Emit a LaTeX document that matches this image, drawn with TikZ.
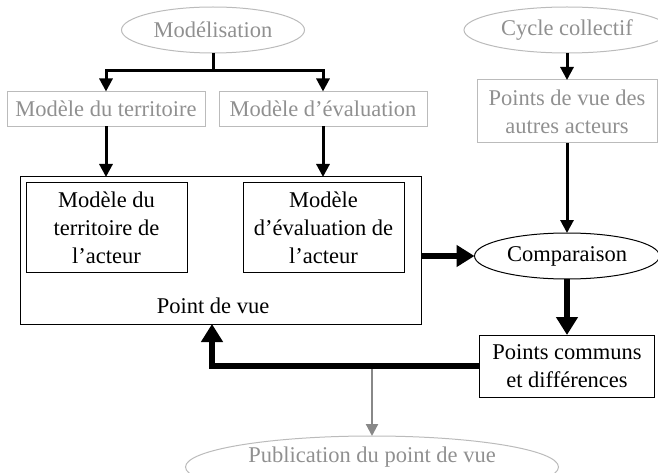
\documentclass[tikz,border=0pt]{standalone}
\usepackage{fontspec}
\setmainfont{Liberation Serif}
\usetikzlibrary{arrows.meta,shapes.geometric}
\definecolor{gtext}{HTML}{909090}
\definecolor{gline}{HTML}{BBBBBB}
\definecolor{garrow}{HTML}{888888}
\begin{document}
\begin{tikzpicture}[x=1pt,y=-1pt,
  every node/.style={font=\fontsize{22.5}{28}\selectfont, inner sep=0pt, outer sep=0pt},
  gbox/.style={draw=gline, line width=1pt, text=gtext, align=center},
  gell/.style={ellipse, draw=gline, line width=1pt, text=gtext},
  bbox/.style={draw=black, line width=1pt, align=center},
  bell/.style={ellipse, draw=black, line width=1pt},
  thin/.style={line width=3pt, -{Triangle[width=13pt,length=13pt]}},
  thick/.style={line width=6pt, line join=miter, -{Triangle[width=21pt,length=18pt]}},
  garr/.style={draw=garrow, line width=2.2pt, -{Triangle[width=12pt,length=12pt]}, color=garrow}
]
\useasboundingbox (0,0) rectangle (658,473);
\node[gell, minimum width=183pt, minimum height=46pt] (mod) at (213,30) {Modélisation};
\node[gbox, minimum width=198pt, minimum height=35pt] (mt) at (106,109) {Modèle du territoire};
\node[gbox, minimum width=208pt, minimum height=35pt] (me) at (323,109) {Modèle d’évaluation};
\node[bbox, minimum width=401pt, minimum height=147pt] (pv) at (220.5,250.5) {};
\node[bbox, minimum width=161pt, minimum height=89pt] (ia) at (106.5,227.5) {Modèle du\\territoire de\\l’acteur};
\node[bbox, minimum width=161pt, minimum height=89pt] (ib) at (323.5,227.5) {Modèle\\d’évaluation de\\l’acteur};
\node (pvl) at (213,306) {Point de vue};
\node[gell, minimum width=206pt, minimum height=46pt] (cc) at (567,30) {Cycle collectif};
\node[gbox, minimum width=180pt, minimum height=63pt] (pva) at (567,111.5) {Points de vue des\\autres acteurs};
\node[bell, minimum width=185pt, minimum height=46pt] (comp) at (567,256) {Comparaison};
\node[bbox, minimum width=175pt, minimum height=62pt] (pc) at (567,366) {Points communs\\et différences};
\node[gell, minimum width=373pt, minimum height=62pt] (pub) at (372,467) {};
\node[text=gtext] (publ) at (372,457) {Publication du point de vue};
\coordinate (j1) at (213,71);
\coordinate (corner) at (212,366);
\coordinate (branch) at (372,366);
\draw[line width=3pt] (mod.south) -- (j1);
\draw[thin] (j1) -| (mt.north);
\draw[thin] (j1) -| (me.north);
\draw[thin] (mt.south) -- (mt.south |- pv.north);
\draw[thin] (me.south) -- (me.south |- pv.north);
\draw[thin] (cc.south) -- (pva.north);
\draw[thin] (pva.south) -- (comp.north);
\draw[thick] (pv.east |- comp.west) -- (comp.west);
\draw[thick] (comp.south) -- (pc.north);
\draw[garr] (branch) -- (pub.north);
\draw[thick] (pc.west) -- (corner) -- (corner |- pv.south);
\end{tikzpicture}
\end{document}
